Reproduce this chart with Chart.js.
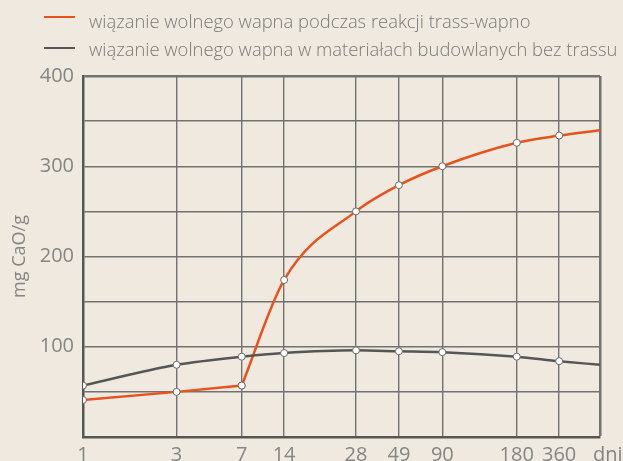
<!DOCTYPE html>
<html>
<head>
<meta charset="utf-8">
<script src="https://cdn.jsdelivr.net/npm/chart.js@4/dist/chart.umd.min.js"></script>
<style>
html, body { margin: 0; padding: 0; background: #efe9df; }
#wrap { position: relative; width: 623px; height: 461px; overflow: hidden; }
#legend { position: absolute; left: 44px; top: 6px; font-family: "Open Sans"; font-weight: 300; font-size: 18.4px; color: #7a7a7a; }
.item { display: flex; align-items: center; height: 28px; white-space: nowrap; }
.swatch { width: 31px; height: 2px; margin-right: 14px; }
.item:first-child .swatch { transform: translateY(-3px); }
</style>
</head>
<body>
<div id="wrap">
  <canvas id="chart" width="623" height="461"></canvas>
  <div id="legend"></div>
</div>
<script>
// dane
const days = [1, 3, 7, 14, 28, 49, 90, 180, 360];
const endDay = 580; // koniec osi ("dni")
const xTickLabels = ['1', '3', '7', '14', '28', '49', '90', '180', '360', '   dni'];
const yTickLabels = [100, 200, 300, 400];

const trassName = 'wiązanie wolnego wapna podczas reakcji trass-wapno';
const trassValues = [41, 50, 57, 174, 250, 279, 300, 326, 334];
const trassEnd = 340;

const plainName = 'wiązanie wolnego wapna w materiałach budowlanych bez trassu';
const plainValues = [57, 80, 89, 93, 96, 95, 94, 89, 84];
const plainEnd = 80;

const orange = '#e8521b';
const grey = '#565656';
const gridColor = '#727272';

// położenie kolejnych dni na osi (ułamek szerokości osi), jak na oryginale
const dayAxisStops = [0, 0.181, 0.307, 0.389, 0.528, 0.611, 0.695, 0.839, 0.921, 1];

// skala dni: rozmieszcza dni według dayAxisStops
class DayScale extends Chart.LinearScale {
    getPixelForValue(value) {
        const ds = days.concat(endDay);
        let frac = 1;
        for (let i = 0; i < ds.length - 1; i++) {
            if (value <= ds[i + 1]) {
                const t = (value - ds[i]) / (ds[i + 1] - ds[i]);
                frac = dayAxisStops[i] + t * (dayAxisStops[i + 1] - dayAxisStops[i]);
                break;
            }
        }
        return this.getPixelForDecimal(frac);
    }
}
DayScale.id = 'days';
DayScale.defaults = Chart.LinearScale.defaults;
Chart.register(DayScale);

function toPoints(xs, ys) {
    return xs.map((x, i) => ({ x: x, y: ys[i] }));
}

// legenda jako zwykły tekst HTML
const legend = document.getElementById('legend');
[[trassName, orange], [plainName, grey]].forEach(([name, color]) => {
    const item = document.createElement('div');
    item.className = 'item';
    const sw = document.createElement('span');
    sw.className = 'swatch';
    sw.style.background = color;
    const label = document.createElement('span');
    label.textContent = name;
    item.appendChild(sw);
    item.appendChild(label);
    legend.appendChild(item);
});

const pointStyle = {
    pointRadius: 3.5,
    pointBackgroundColor: '#ffffff',
    pointBorderColor: '#6a6a6a',
    pointBorderWidth: 1
};

const trassPoints = toPoints(days, trassValues).concat({ x: endDay, y: trassEnd });
const plainPoints = toPoints(days, plainValues).concat({ x: endDay, y: plainEnd });

new Chart(document.getElementById('chart'), {
    type: 'line',
    data: {
        datasets: [
            {
                label: plainName,
                data: plainPoints,
                borderColor: grey,
                borderWidth: 2.5,
                cubicInterpolationMode: 'monotone',
                ...pointStyle,
                pointRadius: ctx => ctx.dataIndex === plainPoints.length - 1 ? 0 : 3.5
            },
            {
                // odcinek 1-7 dni: prosty
                label: trassName,
                data: trassPoints.slice(0, 3),
                borderColor: orange,
                borderWidth: 2.5,
                tension: 0,
                ...pointStyle
            },
            {
                // od 7 dni: krzywa
                label: trassName,
                data: trassPoints.slice(2),
                borderColor: orange,
                borderWidth: 2.5,
                cubicInterpolationMode: 'monotone',
                ...pointStyle,
                pointRadius: ctx => ctx.dataIndex === trassPoints.length - 3 ? 0 : 3.5
            }
        ]
    },
    options: {
        responsive: false,
        animation: false,
        layout: { padding: { top: 76, right: 23, left: 0, bottom: 0 } },
        plugins: {
            legend: { display: false },
            tooltip: { enabled: false }
        },
        scales: {
            x: {
                type: 'days',
                min: 1,
                max: endDay,
                afterBuildTicks: scale => {
                    scale.ticks = days.concat(endDay).map(v => ({ value: v }));
                },
                afterFit: scale => {
                    scale.height = 24;
                    scale.paddingLeft = 0;
                    scale.paddingRight = 0;
                },
                grid: {
                    color: gridColor,
                    lineWidth: ctx => ctx.index === days.length ? 2.5 : 1.4,
                    drawTicks: false
                },
                border: { display: true, color: grey, width: 2.5 },
                ticks: {
                    autoSkip: false,
                    maxRotation: 0,
                    padding: 6,
                    color: '#858585',
                    font: { family: 'Open Sans', size: 20 },
                    callback: (value, index) => xTickLabels[index]
                }
            },
            y: {
                min: 0,
                max: 400,
                afterFit: scale => { scale.width = 83; },
                grid: {
                    color: gridColor,
                    lineWidth: ctx => ctx.tick && ctx.tick.value === 400 ? 2.5 : 1.4,
                    drawTicks: false
                },
                border: { display: true, color: grey, width: 2.5 },
                ticks: {
                    stepSize: 50,
                    padding: 9,
                    color: '#858585',
                    font: { family: 'Open Sans', size: 20 },
                    callback: value => yTickLabels.includes(value) ? String(value) : ''
                },
                title: {
                    display: true,
                    text: 'mg CaO/g',
                    color: '#858585',
                    font: { family: 'Open Sans', size: 18 },
                    padding: { top: 9, bottom: 0 }
                }
            }
        }
    }
});
</script>
</body>
</html>
